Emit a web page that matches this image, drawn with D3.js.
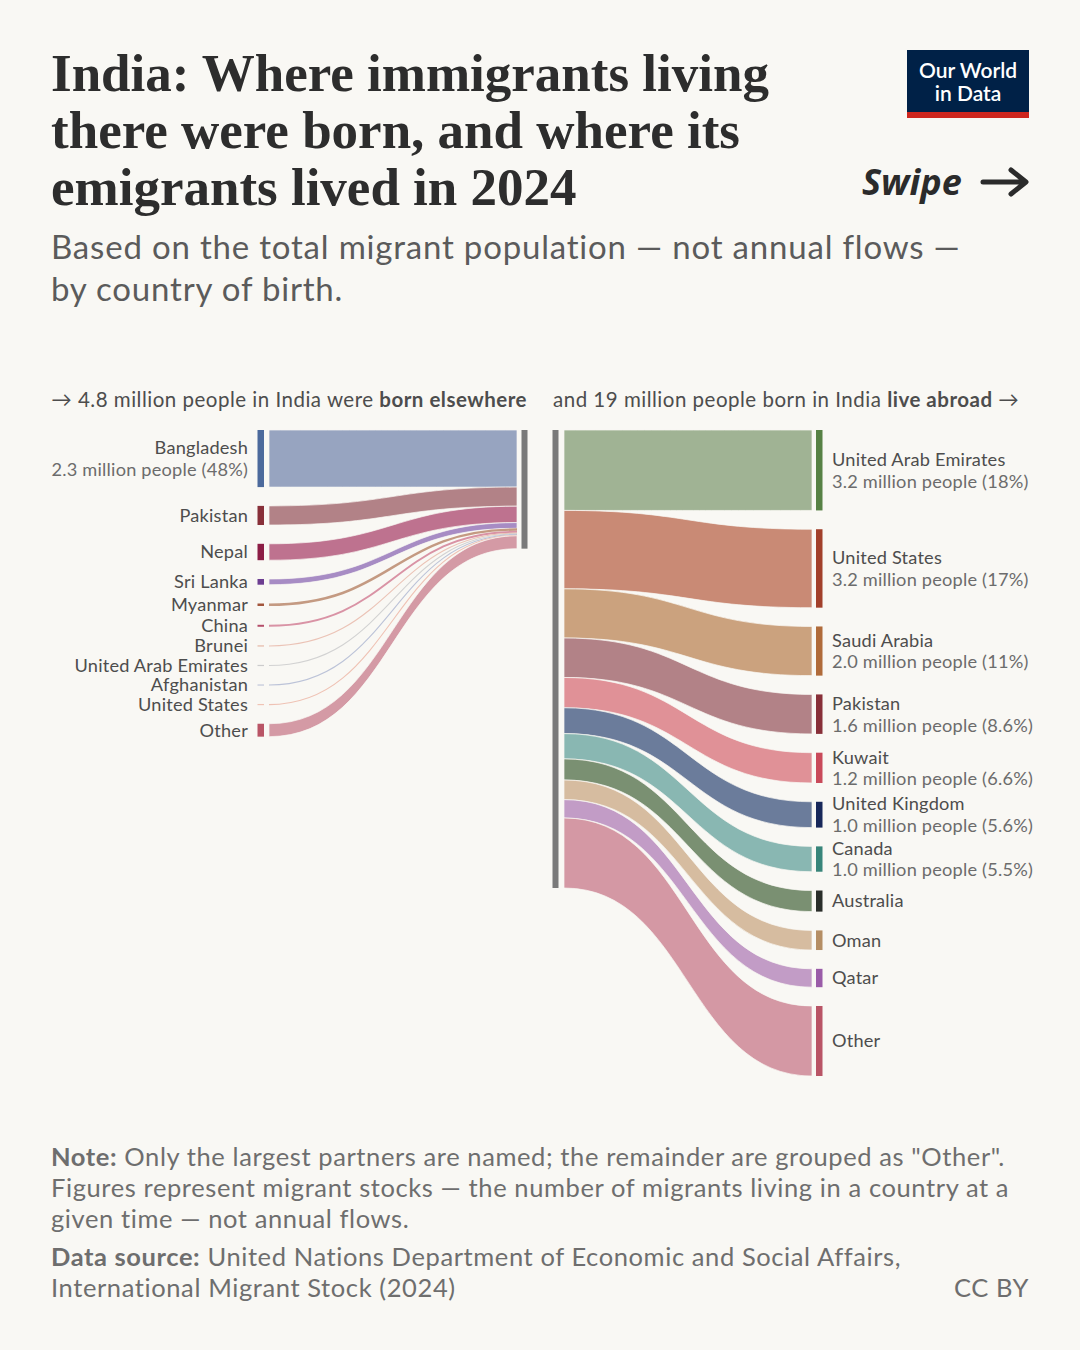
<!DOCTYPE html>
<html>
<head>
<meta charset="utf-8">
<script src="https://cdn.jsdelivr.net/npm/d3@7"></script>
<style>
  html, body { margin: 0; padding: 0; background: #f9f8f4; }
  svg { display: block; }
</style>
</head>
<body>
<div id="chart"></div>
<script>
// Born elsewhere, living in India (millions)
const leftNames = ["Bangladesh", "Pakistan", "Nepal", "Sri Lanka", "Myanmar", "China", "Brunei", "United Arab Emirates", "Afghanistan", "United States", "Other"];
const leftValues = [2.30, 0.77, 0.66, 0.23, 0.10, 0.08, 0.03, 0.03, 0.03, 0.03, 0.52];
const leftNodeColors = ["#4c6a9c", "#883039", "#8c1d45", "#6d3e91", "#a2553b", "#b54e6a", "#e6b8a8", "#cccccc", "#c2c7da", "#f0c4b5", "#b95566"];
const leftLinkColors = ["#97a4c0", "#b28287", "#be728f", "#a78cc4", "#c49a82", "#d993a5", "#ebc3b6", "#d2d2d2", "#bcc3d8", "#efc2b4", "#d49aa5"];

// Born in India, living abroad (millions)
const rightNames = ["United Arab Emirates", "United States", "Saudi Arabia", "Pakistan", "Kuwait", "United Kingdom", "Canada", "Australia", "Oman", "Qatar", "Other"];
const rightValues = [3.24, 3.16, 1.98, 1.59, 1.22, 1.04, 1.02, 0.85, 0.79, 0.74, 2.82];
const rightNodeColors = ["#578145", "#a2402b", "#b06b3a", "#883039", "#c94a5a", "#18285a", "#38857a", "#2a2e2a", "#b58e64", "#9a5ca8", "#b95566"];
const rightLinkColors = ["#a0b394", "#c98a75", "#cba27e", "#b28287", "#e09197", "#6b7c9b", "#89b7b2", "#7a9072", "#d6bca0", "#c29cc6", "#d498a4"];

const width = 1080;
const height = 1350;
const bg = "#f9f8f4";

const svg = d3
  .select("#chart")
  .append("svg")
  .attr("width", width)
  .attr("height", height)
  .style("font-family", "Lato, 'Noto Sans', sans-serif");

svg.append("rect").attr("width", width).attr("height", height).attr("fill", bg);

// Title
const title = ["India: Where immigrants living", "there were born, and where its", "emigrants lived in 2024"];
svg
  .append("g")
  .selectAll("text")
  .data(title)
  .enter()
  .append("text")
  .attr("x", 51)
  .attr("y", (d, i) => 91 + i * 57)
  .style("font-family", "'Liberation Serif', 'DejaVu Serif', serif")
  .style("font-weight", 700)
  .style("font-size", "53px")
  .style("letter-spacing", "0px")
  .attr("fill", "#2d2d2d")
  .text((d) => d);

const subtitle = ["Based on the total migrant population — not annual flows —", "by country of birth."];
svg
  .append("g")
  .selectAll("text")
  .data(subtitle)
  .enter()
  .append("text")
  .attr("x", 51)
  .attr("y", (d, i) => 259 + i * 42)
  .style("font-size", "33px")
  .style("letter-spacing", "0.8px")
  .attr("fill", "#5b5b5b")
  .text((d) => d);

// Logo
const logo = svg.append("g").attr("transform", "translate(907,50)");
logo.append("rect").attr("width", 122).attr("height", 63).attr("fill", "#002147");
logo.append("rect").attr("y", 62).attr("width", 122).attr("height", 6).attr("fill", "#ce261e");
logo
  .selectAll("text")
  .data(["Our World", "in Data"])
  .enter()
  .append("text")
  .attr("x", 61)
  .attr("y", (d, i) => 28 + i * 23)
  .attr("text-anchor", "middle")
  .attr("fill", "#fff")
  .style("font-size", "21px")
  .style("font-weight", 600)
  .text((d) => d);

// Swipe hint
svg
  .append("text")
  .attr("x", 862)
  .attr("y", 195)
  .style("font-family", "'Noto Sans', sans-serif")
  .style("font-weight", 700)
  .style("font-style", "italic")
  .style("font-size", "36px")
  .attr("fill", "#2b2b2b")
  .text("Swipe");
svg
  .append("path")
  .attr("d", "M983,182 L1025,182 M1011,170 L1026,182 L1011,194")
  .attr("fill", "none")
  .attr("stroke", "#2b2b2b")
  .attr("stroke-width", 5)
  .attr("stroke-linecap", "round")
  .attr("stroke-linejoin", "round");

// Section headers
const hdrL = svg
  .append("text")
  .attr("x", 527)
  .attr("y", 407)
  .attr("text-anchor", "end")
  .style("font-size", "20.5px")
  .style("letter-spacing", "0.5px")
  .attr("fill", "#4d4d4d");
hdrL.append("tspan").text("→ 4.8 million people in India were ");
hdrL.append("tspan").style("font-weight", 700).text("born elsewhere");

const hdrR = svg
  .append("text")
  .attr("x", 553)
  .attr("y", 407)
  .style("font-size", "20.5px")
  .style("letter-spacing", "0.5px")
  .attr("fill", "#4d4d4d");
hdrR.append("tspan").text("and 19 million people born in India ");
hdrR.append("tspan").style("font-weight", 700).text("live abroad");
hdrR.append("tspan").text(" →");

// Sankey geometry
const top0 = 430;
const pad = 18.8;
const rightTotal = d3.sum(rightValues);
const leftTotal = d3.sum(leftValues);
const y = d3.scaleLinear().domain([0, rightTotal]).range([0, 458]);

function layout(values) {
  let acc = 0;
  return values.map((v, i) => {
    const n = {
      value: v,
      y0: top0 + y(acc) + i * pad,
      h: y(v),
      s0: top0 + y(acc), // position on the India bar
    };
    acc += v;
    return n;
  });
}

const leftNodes = layout(leftValues);
const rightNodes = layout(rightValues);

function ribbon(x0, a0, b0, x1, a1, b1) {
  const xm = (x0 + x1) / 2;
  const p = d3.path();
  p.moveTo(x0, a0);
  p.bezierCurveTo(xm, a0, xm, a1, x1, a1);
  p.lineTo(x1, b1);
  p.bezierCurveTo(xm, b1, xm, b0, x0, b0);
  p.closePath();
  return p.toString();
}

function drawLinks(nodes, colors, fromNode) {
  const g = svg.append("g");
  nodes.forEach((n, i) => {
    const x0 = fromNode ? 269 : 564;
    const x1 = fromNode ? 517 : 812;
    // left: node -> India stack ; right: India stack -> node
    const a0 = fromNode ? n.y0 : n.s0;
    const a1 = fromNode ? n.s0 : n.y0;
    if (n.h >= 2.5) {
      g.append("path")
        .attr("d", ribbon(x0, a0, a0 + n.h, x1, a1, a1 + n.h))
        .attr("fill", colors[i])
        .attr("stroke", bg)
        .attr("stroke-width", 0.7);
    } else {
      const link = d3.linkHorizontal();
      g.append("path")
        .attr("d", link({ source: [x0, a0 + n.h / 2], target: [x1, a1 + n.h / 2] }))
        .attr("fill", "none")
        .attr("stroke", colors[i])
        .attr("stroke-width", Math.max(n.h, 1.1));
    }
  });
}

drawLinks(leftNodes, leftLinkColors, true);
drawLinks(rightNodes, rightLinkColors, false);

// Nodes
function drawNodes(nodes, colors, x) {
  svg
    .append("g")
    .selectAll("rect")
    .data(nodes)
    .enter()
    .append("rect")
    .attr("x", x)
    .attr("y", (d) => (d.h < 1.2 ? d.y0 + d.h / 2 - 0.6 : d.y0))
    .attr("width", 6.5)
    .attr("height", (d) => Math.max(d.h, 1.2))
    .attr("fill", (d, i) => colors[i]);
}
drawNodes(leftNodes, leftNodeColors, 257.5);
drawNodes(rightNodes, rightNodeColors, 816);

// India bars
svg.append("rect").attr("x", 521.5).attr("y", top0).attr("width", 6).attr("height", y(leftTotal)).attr("fill", "#7a7a7a");
svg.append("rect").attr("x", 552.5).attr("y", top0).attr("width", 6).attr("height", y(rightTotal)).attr("fill", "#7a7a7a");

// Labels
const fmtPct = (p) => (p >= 10 ? Math.round(p) : p.toFixed(1));
function drawLabels(nodes, names, total, x, anchor) {
  const g = svg
    .append("g")
    .attr("text-anchor", anchor)
    .style("font-size", "18.2px")
    .style("letter-spacing", "0.2px");
  nodes.forEach((n, i) => {
    const c = n.y0 + n.h / 2;
    if (n.h >= 23 && names[i] !== "Other") {
      g.append("text").attr("x", x).attr("y", c - 4.3).attr("fill", "#4d4d4d").text(names[i]);
      g.append("text")
        .attr("x", x)
        .attr("y", c + 17.4)
        .attr("fill", "#6c6c6c")
        .text(`${n.value.toFixed(1)} million people (${fmtPct((n.value / total) * 100)}%)`);
    } else {
      g.append("text").attr("x", x).attr("y", c + 6.3).attr("fill", "#4d4d4d").text(names[i]);
    }
  });
}
drawLabels(leftNodes, leftNames, leftTotal, 248, "end");
drawLabels(rightNodes, rightNames, rightTotal, 832, "start");

// Footer
const foot = svg
  .append("g")
  .style("font-size", "25.5px")
  .style("letter-spacing", "0.6px")
  .attr("fill", "#6e6e6e");
const n1 = foot.append("text").attr("x", 51).attr("y", 1166);
n1.append("tspan").style("font-weight", 700).text("Note:");
n1.append("tspan").text(' Only the largest partners are named; the remainder are grouped as "Other".');
foot.append("text").attr("x", 51).attr("y", 1197).text("Figures represent migrant stocks — the number of migrants living in a country at a");
foot.append("text").attr("x", 51).attr("y", 1228).text("given time — not annual flows.");
const s1 = foot.append("text").attr("x", 51).attr("y", 1266);
s1.append("tspan").style("font-weight", 700).text("Data source:");
s1.append("tspan").text(" United Nations Department of Economic and Social Affairs,");
foot.append("text").attr("x", 51).attr("y", 1297).text("International Migrant Stock (2024)");
foot.append("text").attr("x", 1029).attr("y", 1297).attr("text-anchor", "end").text("CC BY");
</script>
</body>
</html>
